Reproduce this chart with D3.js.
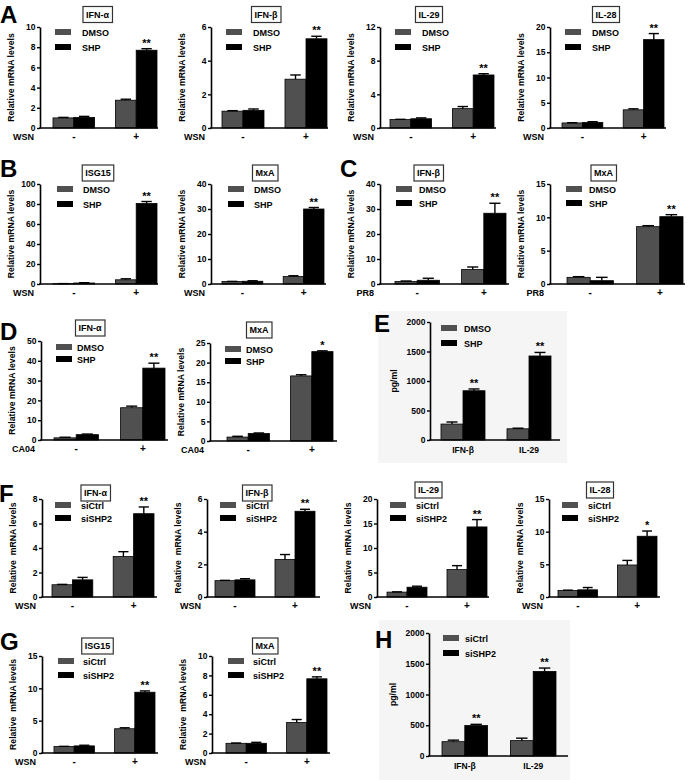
<!DOCTYPE html>
<html><head><meta charset="utf-8">
<script src="https://cdn.jsdelivr.net/npm/d3@7"></script>
<style>
body{margin:0;background:#fff}
svg{display:block;font-family:"Liberation Sans",Arial,sans-serif;font-weight:bold}
</style>
</head><body>
<svg id="chart" width="696" height="780"></svg>
<script>
// ---------------- DATA ----------------
const groups = ["-", "+"];
const cytokines = ["IFN-β", "IL-29"];
const drugSeries = ["DMSO", "SHP"];
const siSeries = ["siCtrl", "siSHP2"];
// order in each array: [control @ first category, treatment @ first, control @ second, treatment @ second]
const A1_mean = [1.0, 1.05, 2.75, 7.7];   const A1_err = [0.05, 0.1, 0.1, 0.15];  const A1_sig = ["", "", "", "**"];
const A2_mean = [1.0, 1.05, 2.9, 5.3];    const A2_err = [0.03, 0.08, 0.25, 0.15]; const A2_sig = ["", "", "", "**"];
const A3_mean = [1.0, 1.1, 2.3, 6.3];     const A3_err = [0.03, 0.1, 0.25, 0.15];  const A3_sig = ["", "", "", "**"];
const A4_mean = [1.0, 1.1, 3.6, 17.5];    const A4_err = [0.05, 0.15, 0.2, 1.2];   const A4_sig = ["", "", "", "**"];
const B1_mean = [0.3, 1.0, 4.2, 80.5];    const B1_err = [0.1, 0.3, 1.0, 2.0];     const B1_sig = ["", "", "", "**"];
const B2_mean = [1.0, 1.1, 3.0, 30.0];    const B2_err = [0.05, 0.2, 0.3, 0.6];    const B2_sig = ["", "", "", "**"];
const C1_mean = [1.0, 1.5, 5.8, 28.3];    const C1_err = [0.2, 0.8, 1.0, 4.0];     const C1_sig = ["", "", "", "**"];
const C2_mean = [1.0, 0.5, 8.6, 10.1];    const C2_err = [0.1, 0.5, 0.15, 0.3];    const C2_sig = ["", "", "", "**"];
const D1_mean = [1.1, 2.7, 16.3, 36.3];   const D1_err = [0.3, 0.3, 0.8, 2.5];     const D1_sig = ["", "", "", "**"];
const D2_mean = [1.0, 1.9, 16.6, 22.8];   const D2_err = [0.2, 0.15, 0.3, 0.2];    const D2_sig = ["", "", "", "*"];
const E_mean  = [270, 835, 190, 1424];    const E_err  = [35, 30, 10, 60];         const E_sig  = ["", "**", "", "**"];
const F1_mean = [1.0, 1.4, 3.3, 6.8];     const F1_err = [0.03, 0.2, 0.4, 0.55];   const F1_sig = ["", "", "", "**"];
const F2_mean = [1.0, 1.05, 2.3, 5.25];   const F2_err = [0.02, 0.07, 0.3, 0.12];  const F2_sig = ["", "", "", "**"];
const F3_mean = [1.0, 2.0, 5.6, 14.3];    const F3_err = [0.05, 0.2, 0.8, 1.5];    const F3_sig = ["", "", "", "**"];
const F4_mean = [1.0, 1.1, 4.9, 9.3];     const F4_err = [0.05, 0.35, 0.7, 0.8];   const F4_sig = ["", "", "", "*"];
const G1_mean = [1.0, 1.1, 3.75, 9.4];    const G1_err = [0.03, 0.1, 0.15, 0.2];   const G1_sig = ["", "", "", "**"];
const G2_mean = [1.0, 1.0, 3.15, 7.65];   const G2_err = [0.03, 0.1, 0.3, 0.2];    const G2_sig = ["", "", "", "**"];
const H_mean  = [233, 495, 250, 1375];    const H_err  = [25, 20, 40, 55];         const H_sig  = ["", "**", "", "**"];
// tick labels
const ticks10 = [0, 2, 4, 6, 8, 10];
const ticks6 = [0, 2, 4, 6];
const ticks12 = [0, 4, 8, 12];
const ticks20 = [0, 5, 10, 15, 20];
const ticks100 = [0, 20, 40, 60, 80, 100];
const ticks40 = [0, 10, 20, 30, 40];
const ticks15 = [0, 5, 10, 15];
const ticks50 = [0, 10, 20, 30, 40, 50];
const ticks25 = [0, 5, 10, 15, 20, 25];
const ticks2000 = [0, 500, 1000, 1500, 2000];
const ticks8 = [0, 2, 4, 6, 8];
const panelLetters = ["A", "B", "C", "D", "E", "F", "G", "H"];

// ---------------- STYLE ----------------
const ctrlColor = "#505050", trtColor = "#000000";
const svg = d3.select("#chart");

// background boxes for ELISA panels
svg.append("rect").attr("x", 378).attr("y", 311).attr("width", 189).attr("height", 152).attr("fill", "#f5f5f5");
svg.append("rect").attr("x", 379).attr("y", 620).attr("width", 191).attr("height", 160).attr("fill", "#f5f5f5");

// panel letters
const letterPos = [[0, 23], [0, 177], [340, 177], [0, 340], [374, 332], [-1, 502], [0, 650], [375, 648]];
panelLetters.forEach((l, i) => {
  svg.append("text").attr("x", letterPos[i][0]).attr("y", letterPos[i][1])
    .attr("font-size", 24).attr("font-weight", "bold").text(l);
});

function drawPlot(p) {
  const g = svg.append("g");
  const maxT = p.ticks[p.ticks.length - 1];
  const y = d3.scaleLinear().domain([0, maxT]).range([p.yBot, p.yTop]);
  const xg = d3.scaleBand().domain(p.cats).range([p.bx0, p.bx1]).paddingInner(1 / 3).paddingOuter(0);
  const xs = d3.scaleBand().domain(p.series).range([0, xg.bandwidth()]);
  const data = [];
  p.cats.forEach((c, i) => p.series.forEach((s, j) => {
    const k = i * p.series.length + j;
    data.push({c, s, j, v: p.mean[k], e: p.err[k], sig: p.sig[k]});
  }));

  // bars
  g.selectAll("rect.bar").data(data).join("rect").attr("class", "bar")
    .attr("x", d => xg(d.c) + xs(d.s))
    .attr("y", d => y(d.v))
    .attr("width", xs.bandwidth())
    .attr("height", d => p.yBot - y(d.v))
    .attr("fill", d => d.j === 0 ? ctrlColor : trtColor)
    .attr("stroke", "#000").attr("stroke-width", 0.8);
  // error bars
  const cw = xs.bandwidth() * 0.5;
  data.filter(d => d.e > 0).forEach(d => {
    const cx = xg(d.c) + xs(d.s) + xs.bandwidth() / 2;
    g.append("line").attr("x1", cx).attr("x2", cx).attr("y1", y(d.v)).attr("y2", y(d.v + d.e))
      .attr("stroke", "#000").attr("stroke-width", 1.4);
    g.append("line").attr("x1", cx - cw / 2).attr("x2", cx + cw / 2).attr("y1", y(d.v + d.e)).attr("y2", y(d.v + d.e))
      .attr("stroke", "#000").attr("stroke-width", 1.4);
  });
  // stars
  data.filter(d => d.sig).forEach(d => {
    const cx = xg(d.c) + xs(d.s) + xs.bandwidth() / 2;
    g.append("text").attr("x", cx).attr("y", y(d.v + d.e) - 2).attr("text-anchor", "middle")
      .attr("font-size", 11).attr("fill", "#000").text(d.sig);
  });

  // y axis
  const ya = g.append("g").attr("transform", `translate(${p.x0},0)`)
    .call(d3.axisLeft(y).tickValues(p.ticks).tickSize(3).tickSizeOuter(0).tickPadding(1.5).tickFormat(d3.format("d")));
  ya.select(".domain").attr("stroke-width", 1.6);
  ya.selectAll(".tick line").attr("stroke-width", 1.4);
  ya.selectAll(".tick text").attr("font-size", 8.5).attr("font-weight", "bold").attr("font-family", "Liberation Sans, Arial, sans-serif").attr("fill", "#000");
  // x axis line
  g.append("line").attr("x1", p.x0 - 0.8).attr("x2", p.x1).attr("y1", p.yBot).attr("y2", p.yBot)
    .attr("stroke", "#000").attr("stroke-width", 1.6);
  // x category labels
  const xa = g.append("g").attr("transform", `translate(0,${p.yBot})`)
    .call(d3.axisBottom(xg).tickSize(0).tickPadding(p.xPad));
  xa.select(".domain").remove();
  xa.selectAll(".tick text").attr("font-size", p.xFont).attr("font-weight", "bold").attr("font-family", "Liberation Sans, Arial, sans-serif").attr("fill", "#000");
  if (p.xlab) {
    g.append("text").attr("x", p.x0 - 6).attr("y", p.yBot + 12).attr("text-anchor", "end")
      .attr("font-size", 9).attr("fill", "#000").text(p.xlab);
  }
  // y label
  g.append("text").attr("transform", `translate(${p.x0 - p.ylOff},${(p.yTop + p.yBot) / 2}) rotate(-90)`)
    .attr("text-anchor", "middle").attr("font-size", 8.7).attr("fill", "#000").style("white-space", "pre").text(p.ylab);

  // title box
  if (p.title) {
    const t = g.append("text").attr("x", p.tx).attr("y", p.ty).attr("text-anchor", "middle")
      .attr("dominant-baseline", "central").attr("font-size", 9).attr("fill", "#000").text(p.title);
    const bb = t.node().getBBox();
    g.insert("rect", "text").attr("x", bb.x - 3).attr("y", p.ty - 8).attr("width", bb.width + 6).attr("height", 16)
      .attr("fill", "#fff").attr("stroke", "#333").attr("stroke-width", 1.2);
  }
  // legend
  p.series.forEach((s, j) => {
    const ly = p.yTop + p.leg.ly + j * p.leg.dy;
    g.append("rect").attr("x", p.x0 + p.leg.sx).attr("y", ly - 3).attr("width", 16).attr("height", 6)
      .attr("fill", j === 0 ? ctrlColor : trtColor);
    g.append("text").attr("x", p.x0 + p.leg.tx).attr("y", ly + 3.5).attr("font-size", 9).attr("fill", "#000").text(s);
  });
}

const ylabel = "Relative mRNA levels";
const ylabelSi = "Relative  mRNA levels";
const legA = {sx: 15, tx: 42, ly: 5, dy: 15};
const legB = {sx: 17, tx: 43, ly: 5, dy: 15};
const legC = {sx: 16, tx: 39, ly: 5, dy: 14};
const legD = {sx: 15, tx: 36, ly: 6, dy: 12};
const legE = {sx: 11, tx: 34, ly: 6, dy: 15};
const legF = {sx: 13, tx: 39, ly: 6, dy: 13};
const legG = {sx: 16, tx: 41, ly: 5, dy: 14};
const legH = {sx: 14, tx: 36, ly: 5, dy: 15};

const plots = [
  // row A
  {title: "IFN-α", tx: 97.5, ty: 14.5, x0: 40, x1: 158, bx0: 53, bx1: 157, yTop: 27, yBot: 128, ticks: ticks10, mean: A1_mean, err: A1_err, sig: A1_sig, cats: groups, series: drugSeries, xlab: "WSN", ylab: ylabel, leg: legA},
  {title: "IFN-β", tx: 266, ty: 14.5, x0: 211, x1: 328, bx0: 222, bx1: 327, yTop: 27, yBot: 128, ticks: ticks6, mean: A2_mean, err: A2_err, sig: A2_sig, cats: groups, series: drugSeries, xlab: "WSN", ylab: ylabel, leg: legA},
  {title: "IL-29", tx: 429, ty: 14.5, x0: 380, x1: 496, bx0: 390, bx1: 494, yTop: 27, yBot: 128, ticks: ticks12, mean: A3_mean, err: A3_err, sig: A3_sig, cats: groups, series: drugSeries, xlab: "WSN", ylab: ylabel, leg: legA},
  {title: "IL-28", tx: 606, ty: 14.5, x0: 550, x1: 666, bx0: 562, bx1: 664, yTop: 27, yBot: 128, ticks: ticks20, mean: A4_mean, err: A4_err, sig: A4_sig, cats: groups, series: drugSeries, xlab: "WSN", ylab: ylabel, leg: legA},
  // row B
  {title: "ISG15", tx: 98, ty: 173, x0: 40, x1: 158, bx0: 53, bx1: 157, yTop: 184, yBot: 284, ticks: ticks100, mean: B1_mean, err: B1_err, sig: B1_sig, cats: groups, series: drugSeries, xlab: "WSN", ylab: ylabel, leg: legB},
  {title: "MxA", tx: 265, ty: 173, x0: 211, x1: 326, bx0: 222, bx1: 324, yTop: 184, yBot: 284, ticks: ticks40, mean: B2_mean, err: B2_err, sig: B2_sig, cats: groups, series: drugSeries, xlab: "WSN", ylab: ylabel, leg: legB},
  // row C
  {title: "IFN-β", tx: 428.5, ty: 173, x0: 380, x1: 509, bx0: 395, bx1: 506, yTop: 184, yBot: 284, ticks: ticks40, mean: C1_mean, err: C1_err, sig: C1_sig, cats: groups, series: drugSeries, xlab: "PR8", ylab: ylabel, leg: legC},
  {title: "MxA", tx: 603.5, ty: 173, x0: 550, x1: 685, bx0: 567, bx1: 683, yTop: 184, yBot: 284, ticks: ticks15, mean: C2_mean, err: C2_err, sig: C2_sig, cats: groups, series: drugSeries, xlab: "PR8", ylab: ylabel, leg: legC},
  // row D
  {title: "IFN-α", tx: 90, ty: 328, x0: 41, x1: 168, bx0: 54, bx1: 165, yTop: 341, yBot: 440, ticks: ticks50, mean: D1_mean, err: D1_err, sig: D1_sig, cats: groups, series: drugSeries, xlab: "CA04", ylab: ylabel, leg: legD},
  {title: "MxA", tx: 259, ty: 330, x0: 210, x1: 337, bx0: 227, bx1: 333, yTop: 343, yBot: 441, ticks: ticks25, mean: D2_mean, err: D2_err, sig: D2_sig, cats: groups, series: drugSeries, xlab: "CA04", ylab: ylabel, leg: legD},
  // E
  {title: null, x0: 430, x1: 560, bx0: 441, bx1: 551, yTop: 322, yBot: 440, ticks: ticks2000, mean: E_mean, err: E_err, sig: E_sig, cats: cytokines, series: drugSeries, xlab: null, ylab: "pg/ml", leg: legE, ylOff: 33, xPad: 7, xFont: 8.5},
  // row F
  {title: "IFN-α", tx: 95.5, ty: 493, x0: 42, x1: 157, bx0: 52, bx1: 154, yTop: 499, yBot: 597, ticks: ticks8, mean: F1_mean, err: F1_err, sig: F1_sig, cats: groups, series: siSeries, xlab: "WSN", ylab: ylabelSi, leg: legF},
  {title: "IFN-β", tx: 257, ty: 493, x0: 207, x1: 320, bx0: 215, bx1: 315, yTop: 499, yBot: 597, ticks: ticks6, mean: F2_mean, err: F2_err, sig: F2_sig, cats: groups, series: siSeries, xlab: "WSN", ylab: ylabelSi, leg: legF},
  {title: "IL-29", tx: 428.5, ty: 490, x0: 377, x1: 489, bx0: 387, bx1: 487, yTop: 499, yBot: 597, ticks: ticks20, mean: F3_mean, err: F3_err, sig: F3_sig, cats: groups, series: siSeries, xlab: "WSN", ylab: ylabelSi, leg: legF},
  {title: "IL-28", tx: 600, ty: 490, x0: 549, x1: 660, bx0: 558, bx1: 657, yTop: 499, yBot: 597, ticks: ticks15, mean: F4_mean, err: F4_err, sig: F4_sig, cats: groups, series: siSeries, xlab: "WSN", ylab: ylabelSi, leg: legF},
  // row G
  {title: "ISG15", tx: 97.5, ty: 646, x0: 42, x1: 158, bx0: 54, bx1: 155, yTop: 656, yBot: 753, ticks: ticks15, mean: G1_mean, err: G1_err, sig: G1_sig, cats: groups, series: siSeries, xlab: "WSN", ylab: ylabelSi, leg: legG},
  {title: "MxA", tx: 265, ty: 646, x0: 212, x1: 330, bx0: 226, bx1: 327, yTop: 656, yBot: 753, ticks: ticks10, mean: G2_mean, err: G2_err, sig: G2_sig, cats: groups, series: siSeries, xlab: "WSN", ylab: ylabelSi, leg: legG},
  // H
  {title: null, x0: 429, x1: 568, bx0: 442, bx1: 556, yTop: 633, yBot: 756, ticks: ticks2000, mean: H_mean, err: H_err, sig: H_sig, cats: cytokines, series: siSeries, xlab: null, ylab: "pg/ml", leg: legH, ylOff: 33, xPad: 7, xFont: 8.5}
];
plots.forEach(p => {
  if (p.ylOff === undefined) p.ylOff = 26;
  if (p.xPad === undefined) p.xPad = 5;
  if (p.xFont === undefined) p.xFont = 10;
  drawPlot(p);
});
</script>
</body></html>
